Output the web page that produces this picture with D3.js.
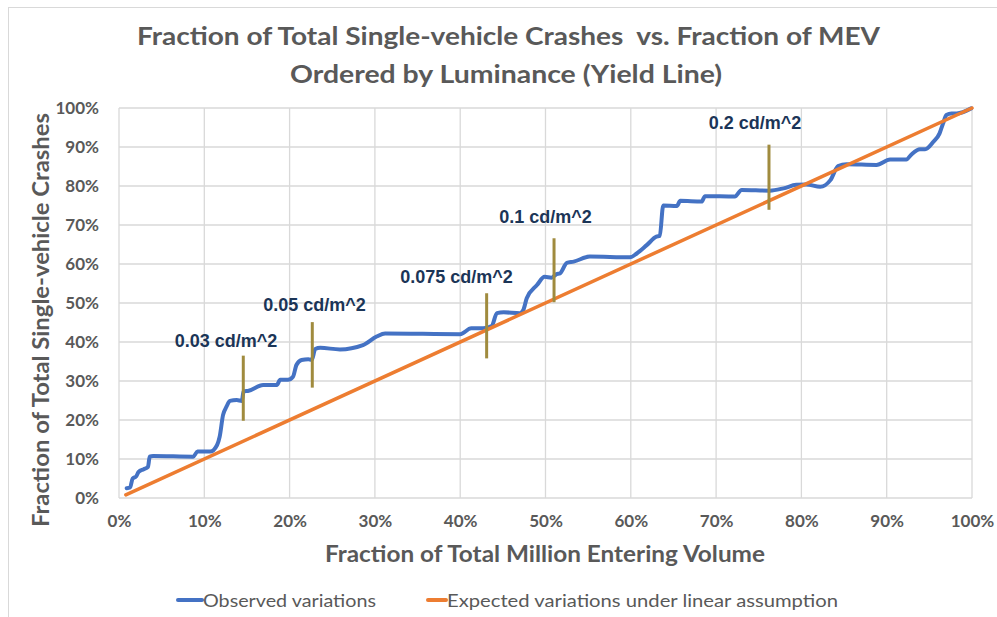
<!DOCTYPE html>
<html><head><meta charset="utf-8">
<script src="https://cdn.jsdelivr.net/npm/d3@7"></script>
<style>body{margin:0;background:#fff}svg{display:block}text{white-space:pre}</style>
</head><body>
<svg id="c" width="997" height="617"></svg>
<script>
// ---- data ----
const obsX = [0.9,1.3,1.6,2.0,2.3,2.9,3.4,3.6,4.0,8.7,9.2,10.7,11.5,11.8,12.2,12.6,13.0,13.8,14.4,14.6,15.2,16.9,18.5,18.9,19.8,20.4,20.8,21.4,22.2,22.6,23.0,23.6,25.9,28.6,30.2,31.2,40.0,41.3,42.7,43.7,44.3,45.1,47.0,47.4,47.8,49.0,49.9,50.7,51.3,51.7,52.5,53.3,55.2,59.9,60.7,61.9,63.0,63.4,63.8,65.4,65.8,68.3,68.7,72.2,73.0,76.3,77.9,79.4,80.6,82.2,83.4,84.3,85.3,88.8,90.4,92.3,92.9,93.9,94.5,95.5,96.2,96.6,97.0,97.6,98.2,99.9];
const obsY = [2.5,2.7,5.0,5.5,6.7,7.4,8.0,10.6,10.8,10.6,11.9,11.9,13.6,15.7,21.3,23.4,24.9,25.1,24.9,27.3,27.5,29.0,29.0,30.3,30.3,31.1,34.1,35.4,35.6,35.4,38.2,38.5,38.1,39.2,41.4,42.2,42.0,43.5,43.5,44.1,47.4,47.6,47.4,48.2,51.2,54.6,56.7,56.5,57.4,57.6,60.3,60.6,61.9,61.7,62.7,64.9,67.0,67.2,75.0,74.9,76.2,76.0,77.4,77.3,79.0,78.8,79.4,80.3,80.4,79.8,81.5,85.1,85.6,85.4,86.8,86.8,88.1,89.4,89.4,91.4,93.5,96.0,98.2,98.6,98.6,99.9];
const expX = [0.8, 100];
const expY = [0.8, 100];
const ticks = [0,10,20,30,40,50,60,70,80,90,100];
const annLabels = ["0.03 cd/m^2","0.05 cd/m^2","0.075 cd/m^2","0.1 cd/m^2","0.2 cd/m^2"];
const annX = [14.57, 22.66, 43.1, 51.0, 76.2];
const annY0 = [19.8, 28.3, 35.8, 50.2, 73.9];
const annY1 = [36.5, 45.1, 52.5, 66.6, 90.6];
const annLabelX = [12.54, 22.92, 39.57, 50.0, 74.56];
const annLabelY = [40.26, 49.5, 56.7, 72.1, 96.1];
const seriesNames = ["Observed variations","Expected variations under linear assumption"];
const titleLines = ["Fraction of Total Single-vehicle Crashes  vs. Fraction of MEV","Ordered by Luminance (Yield Line)"];

// ---- layout ----
const svg = d3.select("#c");
const L = 119, R = 972, T = 108, B = 498;
const x = d3.scaleLinear().domain([0,100]).range([L,R]);
const y = d3.scaleLinear().domain([0,100]).range([B,T]);
const grey = "#595959", grid = "#D9D9D9";
const fontTxt = "Lato, 'Open Sans', sans-serif";

// chart border
svg.append("rect").attr("x",8.5).attr("y",7.5).attr("width",1000).attr("height",700)
  .attr("fill","none").attr("stroke",grid).attr("stroke-width",1);

// title
const titleW = [743, 432], titleY = [35, 73];
titleLines.forEach((t,i)=>{
  svg.append("text").attr("x",(i===0?508.5:506)).attr("y",titleY[i]).attr("text-anchor","middle")
    .attr("dominant-baseline","central").attr("font-family",fontTxt).attr("font-weight","bold")
    .attr("font-size",25).attr("fill",grey)
    .attr("textLength",titleW[i]).attr("lengthAdjust","spacingAndGlyphs").text(t);
});

// grid
const g = svg.append("g");
g.selectAll("line.gx").data(ticks).enter().append("line")
  .attr("x1",d=>x(d)).attr("x2",d=>x(d)).attr("y1",T).attr("y2",B)
  .attr("stroke",grid).attr("stroke-width",1.3);
g.selectAll("line.gy").data(ticks).enter().append("line")
  .attr("x1",L).attr("x2",R).attr("y1",d=>y(d)).attr("y2",d=>y(d))
  .attr("stroke",grid).attr("stroke-width",1.3);

// axes
const fmt = d=>d+"%";
const yAxis = d3.axisLeft(y).tickValues(ticks).tickFormat(fmt).tickSize(0).tickPadding(20);
const xAxis = d3.axisBottom(x).tickValues(ticks).tickFormat(fmt).tickSize(0).tickPadding(17);
const ya = svg.append("g").attr("transform",`translate(${L},0)`).call(yAxis);
const xa = svg.append("g").attr("transform",`translate(0,${B})`).call(xAxis);
[ya,xa].forEach(a=>{
  a.select(".domain").remove();
  a.selectAll("text").attr("font-family",fontTxt).attr("font-weight","bold")
   .attr("font-size",17).attr("fill",grey);
});

// axis titles
svg.append("text").attr("x",545).attr("y",553).attr("text-anchor","middle").attr("dominant-baseline","central")
  .attr("font-family",fontTxt).attr("font-weight","bold").attr("font-size",22).attr("fill",grey)
  .attr("textLength",440).attr("lengthAdjust","spacingAndGlyphs").text("Fraction of Total Million Entering Volume");
svg.append("text").attr("transform","translate(40,320) rotate(-90)").attr("text-anchor","middle").attr("dominant-baseline","central")
  .attr("font-family",fontTxt).attr("font-weight","bold").attr("font-size",22).attr("fill",grey)
  .attr("textLength",414).attr("lengthAdjust","spacingAndGlyphs").text("Fraction of Total Single-vehicle Crashes");

// lines
const obs = obsX.map((d,i)=>[d,obsY[i]]);
const exp = expX.map((d,i)=>[d,expY[i]]);
const line = d3.line().x(d=>x(d[0])).y(d=>y(d[1])).curve(d3.curveMonotoneX);
svg.append("path").datum(obs).attr("d",line).attr("fill","none").attr("stroke","#4472C4")
  .attr("stroke-width",4).attr("stroke-linejoin","round").attr("stroke-linecap","round");
svg.append("path").datum(exp).attr("d",d3.line().x(d=>x(d[0])).y(d=>y(d[1]))).attr("fill","none").attr("stroke","#ED7D31")
  .attr("stroke-width",3.5).attr("stroke-linecap","round");

// annotations
annLabels.forEach((t,i)=>{
  svg.append("line").attr("x1",x(annX[i])).attr("x2",x(annX[i])).attr("y1",y(annY0[i])).attr("y2",y(annY1[i]))
    .attr("stroke","#A08B3E").attr("stroke-width",3);
  svg.append("text").attr("x",x(annLabelX[i])).attr("y",y(annLabelY[i])).attr("text-anchor","middle")
    .attr("dominant-baseline","central").attr("font-family","'Liberation Sans', Arial, sans-serif")
    .attr("font-weight","bold").attr("font-size",18).attr("fill","#1B3557").text(t);
});

// legend
const legColors = ["#4472C4","#ED7D31"];
const legLine = [[178,202],[428,446]];
const legText = [[203,173],[447,391]];
seriesNames.forEach((n,i)=>{
  svg.append("line").attr("x1",legLine[i][0]).attr("x2",legLine[i][1]).attr("y1",600).attr("y2",600)
    .attr("stroke",legColors[i]).attr("stroke-width",4).attr("stroke-linecap","round");
  svg.append("text").attr("x",legText[i][0]).attr("y",600).attr("dominant-baseline","central")
    .attr("font-family",fontTxt).attr("font-size",18).attr("fill",grey)
    .attr("textLength",legText[i][1]).attr("lengthAdjust","spacingAndGlyphs").text(n);
});
</script>
</body></html>
